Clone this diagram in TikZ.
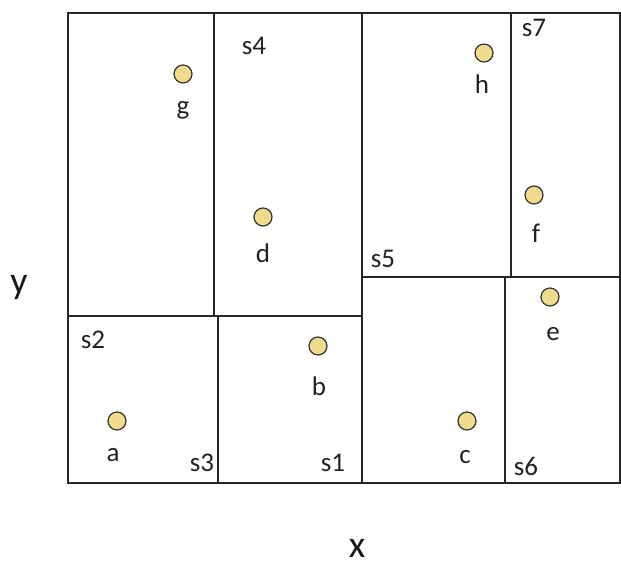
\documentclass[tikz,border=0pt]{standalone}
\usepackage{fontspec}
\setmainfont{Carlito}
\definecolor{dotfill}{RGB}{240,218,140}
\definecolor{txt}{RGB}{35,35,35}
\begin{document}
\begin{tikzpicture}[x=1pt,y=-1pt,
  wall/.style={line width=1.6pt,draw=black!85},
  pt/.style={circle,draw=black!80,line width=1.2pt,fill=dotfill,minimum size=18pt,inner sep=0pt},
  ptlab/.style={text=txt,font=\fontsize{27}{29}\selectfont,inner sep=0pt},
  reglab/.style={text=txt,font=\fontsize{27}{29}\selectfont,inner sep=0pt},
  axlab/.style={text=black!90,font=\fontsize{38}{40}\selectfont,inner sep=0pt}]
\useasboundingbox (0,0) rectangle (621,569);
\fill[white] (0,0) rectangle (621,569);
% outer frame
\draw[wall] (68,13) rectangle (620,483);
% partitions
\draw[wall] (214,13) -- (214,316);
\draw[wall] (68,316) -- (362,316);
\draw[wall] (218,316) -- (218,483);
\draw[wall] (362,13) -- (362,483);
\draw[wall] (362,277) -- (620,277);
\draw[wall] (511,13) -- (511,277);
\draw[wall] (505,277) -- (505,483);
% points
\node[pt] (g) at (183,74) {};
\node[ptlab] (gl) at (183,110) {g};
\node[pt] (d) at (263,217) {};
\node[ptlab] (dl) at (263,253) {d};
\node[pt] (h) at (484,53) {};
\node[ptlab] (hl) at (482,84) {h};
\node[pt] (f) at (534,195) {};
\node[ptlab] (fl) at (536,233) {f};
\node[pt] (b) at (318,346) {};
\node[ptlab] (bl) at (319,386) {b};
\node[pt] (a) at (117,421) {};
\node[ptlab] (al) at (113,455) {a};
\node[pt] (c) at (467,421) {};
\node[ptlab] (cl) at (465,457) {c};
\node[pt] (e) at (550,297) {};
\node[ptlab] (el) at (553,334) {e};
% region labels
\node[reglab] (s4) at (254,46) {s4};
\node[reglab] (s7) at (534,28) {s7};
\node[reglab] (s5) at (383,259) {s5};
\node[reglab] (s2) at (93,340) {s2};
\node[reglab] (s3) at (202,463) {s3};
\node[reglab] (s1) at (333,463) {s1};
\node[reglab] (s6) at (526,466) {s6};
% axes labels
\node[axlab] (y) at (19,287) {y};
\node[axlab] (x) at (357,548) {x};
\end{tikzpicture}
\end{document}
